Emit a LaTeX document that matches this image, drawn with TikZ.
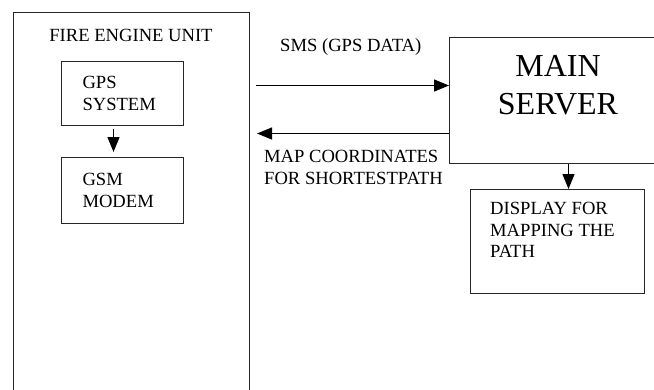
\documentclass[tikz,border=0pt]{standalone}
\usepackage{fontspec}
\setmainfont{Liberation Serif}
\usetikzlibrary{positioning, arrows.meta}

\begin{document}
\begin{tikzpicture}[x=1pt, y=-1pt,
    box/.style={draw=black!85, line width=1pt, inner sep=0pt},
    small/.style={font=\fontsize{18.6}{21.7}\selectfont},
    big/.style={font=\fontsize{32}{38}\selectfont},
    arr/.style={-{Triangle[length=15pt, width=12pt]}, line width=1.3pt}]
   \useasboundingbox (0,0) rectangle (654,389);
   \clip (0,0) rectangle (654,389);

   % Fire engine unit
   \node[box, minimum width=236pt, minimum height=400pt, anchor=north west] (fire) at (13,12) {};
   \node[small, anchor=base] (firelbl) at (131,41) {FIRE ENGINE UNIT};
   \node[box, small, align=left, text width=80pt, inner xsep=21pt, minimum height=64pt, anchor=north west] (gps) at (61,61) {GPS\\SYSTEM};
   \node[box, small, align=left, text width=80pt, inner xsep=21pt, minimum height=66pt, anchor=north west] (gsm) at (61,157) {GSM\\MODEM};

   % Server side
   \node[box, minimum width=218pt, minimum height=126pt, anchor=north west] (main) at (449,37) {};
   \node[big, align=center, inner sep=0pt, anchor=north] (mainlbl) at (558,55) {MAIN\\SERVER};
   \node[box, minimum width=174pt, minimum height=104pt, anchor=north west] (disp) at (470,189) {};
   \node[small, align=left, inner sep=0pt, anchor=north west] (displbl) at (490,202) {DISPLAY FOR\\MAPPING THE\\PATH};

   % Link labels
   \node[small, inner sep=0pt, anchor=base west] (smslbl) at (280,51) {SMS (GPS DATA)};
   \node[small, align=left, inner sep=0pt, anchor=north west] (maplbl) at (264,150) {MAP COORDINATES\\FOR SHORTESTPATH};

   \coordinate (smsend) at ([yshift=15pt]main.west);
   \coordinate (mapstart) at ([yshift=-33pt]main.west);
   \coordinate (down) at ([xshift=10pt]main.south);

   % Transitions
   \path[arr]
    ([xshift=-9pt]gps.south) edge[shorten <=3pt, shorten >=5pt] ([xshift=-9pt]gsm.north)
    (smsend -| fire.east) edge[shorten <=6pt] (smsend)
    (mapstart) edge[shorten >=7pt] (mapstart -| fire.east)
    (down) edge (down |- disp.north);
\end{tikzpicture}
\end{document}
